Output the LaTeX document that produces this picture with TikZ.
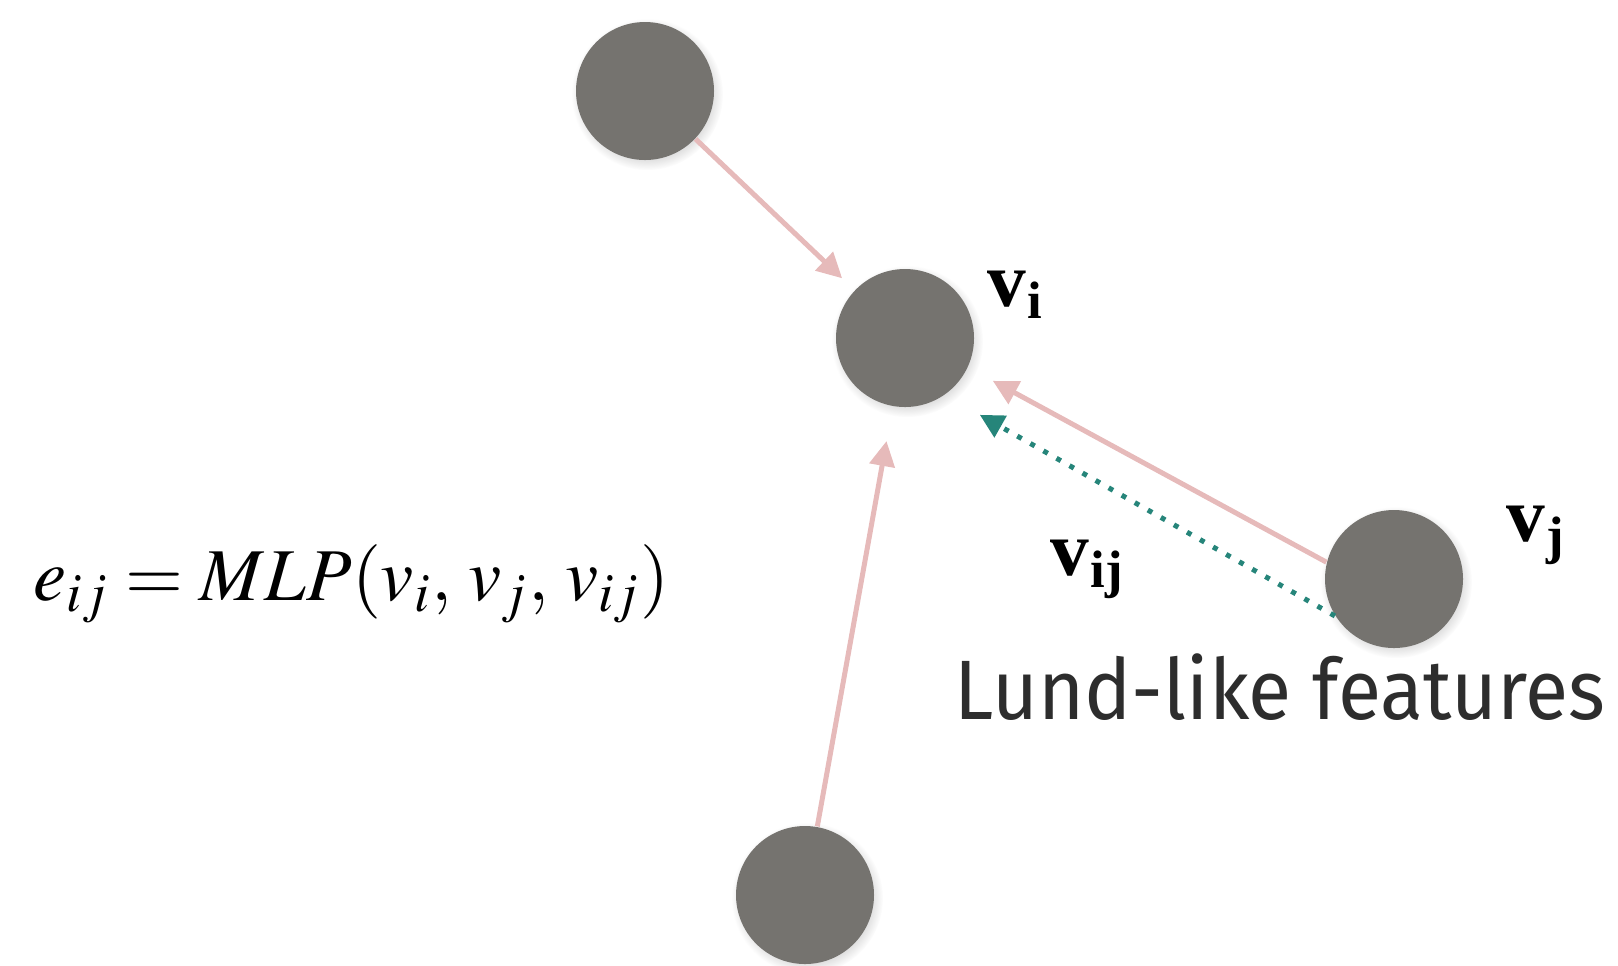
\documentclass[tikz,border=0pt]{standalone}
\usepackage{mathptmx}
\usepackage{fontspec}
\setmainfont{Liberation Serif}
\newfontfamily\lundfont[FakeStretch=0.935]{Fira Sans}
\usepackage{tikz}
\usetikzlibrary{arrows.meta, shadows}
\definecolor{nodegray}{RGB}{117,115,111}
\definecolor{edgepink}{RGB}{230,186,186}
\definecolor{lundteal}{RGB}{38,133,122}
\definecolor{labelink}{RGB}{45,45,45}
\newcommand{\vsub}[1]{\textbf{v\kern0.3pt\raisebox{-0.35ex}{\fontsize{15}{15}\selectfont #1}}}
\tikzset{
  particle/.style={circle, fill=nodegray, minimum size=13.8mm, inner sep=0pt,
    circular drop shadow={shadow xshift=0.2mm, shadow yshift=-0.3mm, opacity=0.25}},
  vlabel/.style={anchor=base west, inner sep=0pt, font=\fontsize{22}{22}\selectfont},
  arr/.style={-{Triangle[length=2.5mm, width=2.5mm]}, line width=0.5mm, edgepink},
  arrdot/.style={-{Triangle[length=2.4mm, width=2.4mm]}, line width=0.5mm, lundteal,
    dash pattern=on 0.5mm off 1mm},
}

\begin{document}
\begin{tikzpicture}[x=0.1mm, y=-0.1mm]
  \useasboundingbox (0,0) rectangle (1618,965);
  \node[particle] (top) at (645,91) {};
  \node[particle] (vi) at (905,338) {};
  \node[particle] (vj) at (1394,579) {};
  \node[particle] (bot) at (805,895) {};

  \draw[arr, shorten >=1.7mm] (top) -- (vi);
  \draw[arr, shorten >=3.5mm] (bot) -- (vi);
  \draw[arr, shorten >=2.8mm] (vj.166) -- (vi.-25);
  \draw[arrdot, shorten >=4mm] (vj.212) -- (vi.-55);

  \node[vlabel] (vilab) at (987,306) {\vsub{i}};
  \node[vlabel] (vijlab) at (1050,575) {\vsub{ij}};
  \node[vlabel] (vjlab) at (1506,541) {\vsub{j}};

  \node[anchor=base west, inner sep=0pt, font=\fontsize{21.2}{21.2}\selectfont] (eq) at (33,600)
    {$e_{ij} = MLP(v_i,\, v_j,\, v_{ij})$};
  \node[anchor=base, inner sep=0pt, text=labelink, font=\lundfont\fontsize{24}{24}\selectfont] (lund) at (1280,719)
    {Lund-like features};
\end{tikzpicture}
\end{document}
